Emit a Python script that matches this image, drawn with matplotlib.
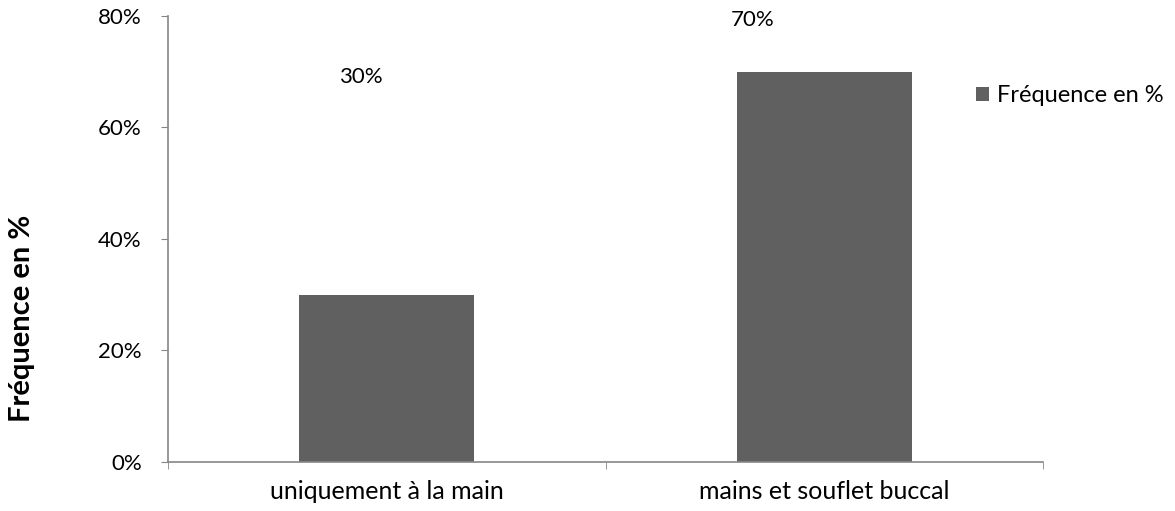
import numpy as np
import matplotlib.pyplot as plt
from matplotlib.ticker import PercentFormatter

# Categories and frequencies (in %)
categories = ['uniquement à la main', 'mains et souflet buccal']
frequences = [30, 70]
series_name = 'Fréquence en %'

plt.rcParams['font.family'] = ['Lato', 'DejaVu Sans']

fig = plt.figure(figsize=(11.75, 5.11), dpi=100)
ax = fig.add_axes([0.143, 0.096, 0.745, 0.873])

x = np.arange(len(categories))
bars = ax.bar(x, frequences, width=0.4, color='#606060', label=series_name, zorder=2)

# Data labels, moved by hand above the bars (x offset, y position in %)
label_pos = [(-0.06, 69.0), (-0.165, 79.3)]
for xi, val, (dx, ty) in zip(x, frequences, label_pos):
    ax.text(xi + dx, ty, '{}%'.format(val), ha='center', va='center', fontsize=16)

ax.set_xlim(-0.5, 1.5)
ax.set_ylim(0, 80)
ax.set_yticks([0, 20, 40, 60, 80])
ax.yaxis.set_major_formatter(PercentFormatter(decimals=0))
ax.set_xticks(x)
ax.set_xticklabels(categories)
ax.set_xticks([-0.5, 0.5, 1.5], minor=True)

for side in ['top', 'right']:
    ax.spines[side].set_visible(False)
for side in ['left', 'bottom']:
    ax.spines[side].set_color('#868686')
    ax.spines[side].set_linewidth(1.2)

ax.tick_params(axis='y', length=5, color='#868686', labelsize=16, pad=14)
ax.tick_params(axis='x', which='major', length=0, labelsize=18, pad=13)
ax.tick_params(axis='x', which='minor', length=5, color='#868686')

# y title sits low on the left, not centred on the axis
fig.text(22.5 / 1175, 1 - 318.5 / 511, series_name, rotation=90, fontsize=21,
         fontweight='bold', ha='center', va='center')

ax.legend(loc='center left', bbox_to_anchor=(0.8203, 0.813), bbox_transform=fig.transFigure,
          frameon=False, fontsize=17, handlelength=0.55, handleheight=0.55,
          handletextpad=0.35, borderpad=0)

fig.savefig('out.png', dpi=100)
